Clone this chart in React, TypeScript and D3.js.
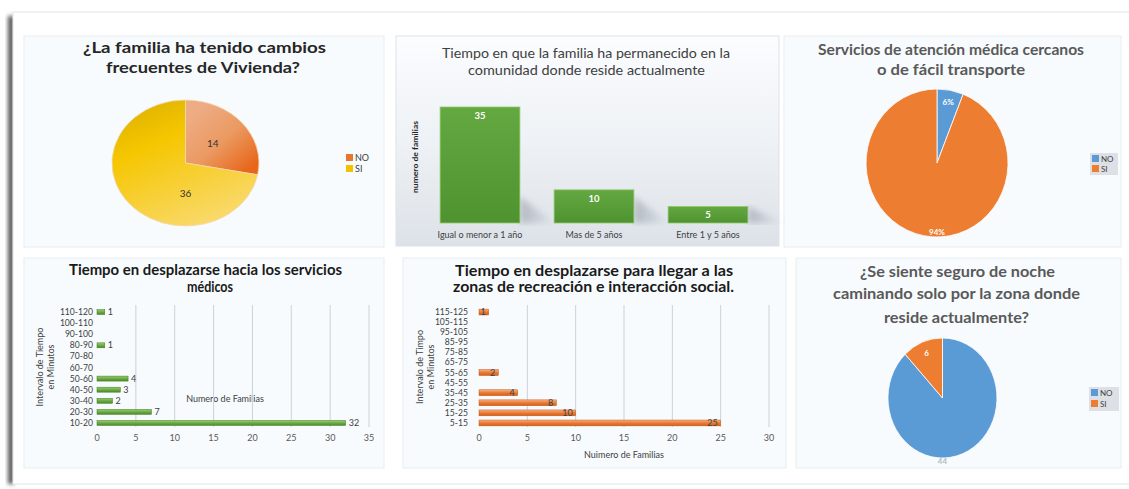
import React from 'react';
import * as d3 from 'd3';

// ---------- DATA ----------
const p1Labels = ['NO', 'SI'];
const p1Values = [14, 36];

const p2Categories = ['Igual o menor a 1 año', 'Mas de 5 años', 'Entre 1 y 5 años'];
const p2Values = [35, 10, 5];

const p3Labels = ['NO', 'SI'];
const p3Values = [6, 94];

const p4Categories = ['10-20', '20-30', '30-40', '40-50', '50-60', '60-70', '70-80', '80-90', '90-100', '100-110', '110-120'];
const p4Values = [32, 7, 2, 3, 4, 0, 0, 1, 0, 0, 1];
const p4Ticks = [0, 5, 10, 15, 20, 25, 30, 35];

const p5Categories = ['5-15', '15-25', '25-35', '35-45', '45-55', '55-65', '65-75', '75-85', '85-95', '95-105', '105-115', '115-125'];
const p5Values = [25, 10, 8, 4, 0, 2, 0, 0, 0, 0, 0, 1];
const p5Ticks = [0, 5, 10, 15, 20, 25, 30];

const p6Labels = ['NO', 'SI'];
const p6Values = [44, 6];

const FONT = 'Lato, "Open Sans", "Noto Sans", sans-serif';

type TitleLine = { text: string; x: number; y: number; w: number };
function Title({ lines, size, weight, color }: { lines: TitleLine[]; size: number; weight: number; color: string }) {
  return (
    <g>
      {lines.map((l, i) => (
        <text key={i} x={l.x} y={l.y} textAnchor="middle" fontSize={size} fontWeight={weight} fill={color}
          fontFamily={FONT} textLength={l.w} lengthAdjust="spacingAndGlyphs">{l.text}</text>
      ))}
    </g>
  );
}

const pieGen = d3.pie<number>().sort(null).value(d => d);
const unitArc = d3.arc<d3.PieArcDatum<number>>().innerRadius(0).outerRadius(1);

function Pie({ values, cx, cy, rx, ry, fills, stroke, labels, labelColors, labelSize, labelWeight, labelR }: any) {
  const arcs = pieGen(values);
  return (
    <g>
      {arcs.map((a, i) => (
        <path key={i} d={unitArc(a) || ''} transform={`translate(${cx},${cy}) scale(${rx},${ry})`}
          fill={fills[i]} stroke={stroke} strokeWidth={0.8} vectorEffect="non-scaling-stroke" />
      ))}
      {arcs.map((a, i) => {
        const big = a.endAngle - a.startAngle > Math.PI;
        const mid = big ? Math.PI : (a.startAngle + a.endAngle) / 2;
        const rf = big ? labelR[1] : labelR[0];
        const x = cx + Math.sin(mid) * rx * rf;
        const y = cy - Math.cos(mid) * ry * rf;
        return (
          <text key={'l' + i} x={x} y={y} dy="0.35em" textAnchor="middle" fontSize={labelSize}
            fontWeight={labelWeight} fill={labelColors[i]} fontFamily={FONT}>{labels[i]}</text>
        );
      })}
    </g>
  );
}

function Legend({ x, y, labels, colors, box, step = 11, size = 8, w = 29 }: any) {
  return (
    <g>
      {box && <rect x={x - 2} y={y - 3} width={w} height={labels.length * step + 2} fill="#dde1e6" />}
      {labels.map((l: string, i: number) => (
        <g key={i}>
          <rect x={x} y={y + i * step - 1} width={7} height={7} fill={colors[i]} />
          <text x={x + 9} y={y + i * step + 6} fontSize={size} fill="#404040" fontFamily={FONT}>{l}</text>
        </g>
      ))}
    </g>
  );
}

export default function App() {
  // ---- Panel 2 scales ----
  const x2 = d3.scaleBand<string>().domain(p2Categories).range([423, 765]).paddingInner(0.3).paddingOuter(0.15);
  const y2 = d3.scaleLinear().domain([0, 35]).range([223, 107]);

  // ---- Panel 4 scales ----
  const x4 = d3.scaleLinear().domain([0, 35]).range([97, 369]);
  const y4 = d3.scaleBand<string>().domain(p4Categories).range([428.5, 306.5]).paddingInner(0.55).paddingOuter(0.275);

  // ---- Panel 5 scales ----
  const x5 = d3.scaleLinear().domain([0, 30]).range([479, 769]);
  const y5 = d3.scaleBand<string>().domain(p5Categories).range([428, 307]).paddingInner(0.42).paddingOuter(0.21);

  return (
    <svg width={1129} height={489} style={{ position: 'absolute', left: 0, top: 0 }} fontFamily={FONT}>
      <defs>
        <filter id="blur2" x="-50%" y="-5%" width="200%" height="110%"><feGaussianBlur stdDeviation="2" /></filter>
        <filter id="blur3"><feGaussianBlur stdDeviation="3" /></filter>
        <linearGradient id="p2bg" x1="0" y1="0" x2="0" y2="1">
          <stop offset="0" stopColor="#fbfdff" />
          <stop offset="0.5" stopColor="#eef1f5" />
          <stop offset="1" stopColor="#dde2e8" />
        </linearGradient>
        <linearGradient id="gNo" x1="0.2" y1="0.1" x2="0.9" y2="0.9">
          <stop offset="0" stopColor="#eeac84" />
          <stop offset="0.5" stopColor="#eb9a62" />
          <stop offset="1" stopColor="#e8661a" />
        </linearGradient>
        <linearGradient id="gSi" x1="0.1" y1="0" x2="0.6" y2="1">
          <stop offset="0" stopColor="#dcb000" />
          <stop offset="0.35" stopColor="#f5c600" />
          <stop offset="1" stopColor="#f9d96a" />
        </linearGradient>
        <linearGradient id="gBar2" x1="0" y1="0" x2="0" y2="1">
          <stop offset="0" stopColor="#63a841" />
          <stop offset="1" stopColor="#4f9330" />
        </linearGradient>
        <linearGradient id="gBar4" x1="0" y1="0" x2="0" y2="1">
          <stop offset="0" stopColor="#9ccd74" />
          <stop offset="0.5" stopColor="#6cab45" />
          <stop offset="1" stopColor="#4a8a29" />
        </linearGradient>
        <linearGradient id="gBar5" x1="0" y1="0" x2="0" y2="1">
          <stop offset="0" stopColor="#f7b286" />
          <stop offset="0.5" stopColor="#ec7a32" />
          <stop offset="1" stopColor="#d2601c" />
        </linearGradient>
        <linearGradient id="gShadow" x1="0" y1="0" x2="1" y2="0">
          <stop offset="0" stopColor="#8a939c" stopOpacity="0.55" />
          <stop offset="1" stopColor="#8a939c" stopOpacity="0" />
        </linearGradient>
      </defs>

      {/* outer frame */}
      <rect x={8} y={16} width={6} height={468} fill="#555" filter="url(#blur2)" />
      <rect x={13} y={12} width={1125} height={472} fill="#ffffff" stroke="#e2e6ea" />

      {/* panels */}
      <rect x={24} y={36} width={360} height={211} fill="#f7fbfd" stroke="#e7edf1" />
      <rect x={396} y={36} width={383} height={210} fill="url(#p2bg)" stroke="#dde3ea" />
      <rect x={784} y={36} width={337} height={211} fill="#f7fbfd" stroke="#e7edf1" />
      <rect x={24} y={258} width={360} height={210} fill="#f7fbfd" stroke="#e7edf1" />
      <rect x={403} y={258} width={383} height={210} fill="#f7fbfd" stroke="#e7edf1" />
      <rect x={796} y={258} width={325} height={210} fill="#f7fbfd" stroke="#e7edf1" />

      {/* ---------- Panel 1 ---------- */}
      <Title size={16} weight={700} color="#262626" lines={[
        { text: '¿La familia ha tenido cambios', x: 204.5, y: 53, w: 243 },
        { text: 'frecuentes de Vivienda?', x: 203, y: 73, w: 194 },
      ]} />
      <Pie values={p1Values} cx={185.5} cy={163} rx={73.5} ry={63} fills={['url(#gNo)', 'url(#gSi)']}
        stroke="#f4d8b0" labels={p1Values.map(String)} labelColors={['#333', '#333']} labelSize={10}
        labelWeight={400} labelR={[0.48, 0.48]} />
      <Legend x={346} y={155} labels={p1Labels} colors={['#e8772e', '#f2c200']} step={11} size={9} />

      {/* ---------- Panel 2 ---------- */}
      <Title size={12.5} weight={400} color="#404040" lines={[
        { text: 'Tiempo en que la familia ha permanecido en la', x: 586, y: 58, w: 288 },
        { text: 'comunidad donde reside actualmente', x: 586.5, y: 75, w: 237 },
      ]} />
      <text transform="translate(418,157) rotate(-90)" textAnchor="middle" fontSize={8} fontWeight={700}
        fill="#262626" fontFamily={FONT} textLength={72} lengthAdjust="spacingAndGlyphs">numero de familias</text>
      {p2Categories.map((c, i) => {
        const x0 = (x2(c) || 0) + x2.bandwidth();
        const h = Math.min(y2(0) - y2(p2Values[i]), 26);
        return (
          <polygon key={'s' + i} points={`${x0},${y2(0)} ${x0},${y2(0) - h} ${x0 + 36},${y2(0)}`}
            fill="url(#gShadow)" filter="url(#blur3)" />
        );
      })}
      {p2Categories.map((c, i) => (
        <g key={c}>
          <rect x={x2(c)} y={y2(p2Values[i])} width={x2.bandwidth()} height={y2(0) - y2(p2Values[i])}
            fill="url(#gBar2)" stroke="#93c86e" strokeWidth={0.8} />
          <text x={(x2(c) || 0) + x2.bandwidth() / 2} y={y2(p2Values[i]) + 12} textAnchor="middle"
            fontSize={9.5} fontWeight={700} fill="#ffffff" fontFamily={FONT}>{p2Values[i]}</text>
          <text x={(x2(c) || 0) + x2.bandwidth() / 2} y={238} textAnchor="middle" fontSize={9}
            fill="#404040" fontFamily={FONT}>{c}</text>
        </g>
      ))}

      {/* ---------- Panel 3 ---------- */}
      <Title size={16} weight={700} color="#595959" lines={[
        { text: 'Servicios de atención médica cercanos', x: 951, y: 55, w: 266 },
        { text: 'o de fácil transporte', x: 951, y: 75, w: 148 },
      ]} />
      <Pie values={p3Values} cx={937} cy={163} rx={71} ry={74} fills={['#5b9bd5', '#ed7d31']}
        stroke="#ffffff" labels={p3Values.map(v => v + '%')} labelColors={['#fff', '#fff']} labelSize={8}
        labelWeight={700} labelR={[0.84, 0.93]} />
      <Legend x={1092} y={156} labels={p3Labels} colors={['#5b9bd5', '#ed7d31']} box step={10} w={28} />

      {/* ---------- Panel 4 ---------- */}
      <Title size={15} weight={700} color="#1a1a1a" lines={[
        { text: 'Tiempo en desplazarse hacia los servicios', x: 205.5, y: 275, w: 273 },
        { text: 'médicos', x: 210, y: 292, w: 46 },
      ]} />
      <text x={225} y={402} textAnchor="middle" fontSize={9} fill="#404040" fontFamily={FONT}>Numero de Familias</text>
      {p4Ticks.filter(t => t > 0).map(t => (
        <line key={t} x1={x4(t)} x2={x4(t)} y1={305} y2={427} stroke="#ccd1da" strokeWidth={1} />
      ))}
      {p4Ticks.map(t => (
        <text key={'t' + t} x={x4(t)} y={441} textAnchor="middle" fontSize={9} fill="#595959" fontFamily={FONT}>{t}</text>
      ))}
      {p4Categories.map((c, i) => (
        <text key={'c' + c} x={93} y={(y4(c) || 0) + y4.bandwidth() / 2} dy="0.35em" textAnchor="end"
          fontSize={8.6} fill="#404040" fontFamily={FONT}>{c}</text>
      ))}
      {p4Categories.map((c, i) => p4Values[i] > 0 && (
        <g key={'b' + c}>
          <rect x={x4(0)} y={y4(c)} width={x4(p4Values[i]) - x4(0)} height={y4.bandwidth()}
            fill="url(#gBar4)" stroke="#3f7a22" strokeWidth={0.5} />
          <text x={x4(p4Values[i]) + 3} y={(y4(c) || 0) + y4.bandwidth() / 2} dy="0.35em" fontSize={9}
            fill="#404040" fontFamily={FONT}>{p4Values[i]}</text>
        </g>
      ))}
      <g transform="translate(0,367)">
        <text transform="translate(43,0) rotate(-90)" textAnchor="middle" fontSize={9} fill="#404040" fontFamily={FONT}>Intervalo de Tiempo</text>
        <text transform="translate(54,0) rotate(-90)" textAnchor="middle" fontSize={9} fill="#404040" fontFamily={FONT}>en Minutos</text>
      </g>

      {/* ---------- Panel 5 ---------- */}
      <Title size={14.5} weight={700} color="#1a1a1a" lines={[
        { text: 'Tiempo  en desplazarse para llegar a las', x: 594, y: 276, w: 278 },
        { text: 'zonas de recreación e interacción social.', x: 593.5, y: 292, w: 281 },
      ]} />
      {p5Ticks.filter(t => t > 0).map(t => (
        <line key={t} x1={x5(t)} x2={x5(t)} y1={305} y2={427} stroke="#ccd1da" strokeWidth={1} />
      ))}
      {p5Ticks.map(t => (
        <text key={'t' + t} x={x5(t)} y={441} textAnchor="middle" fontSize={9} fill="#595959" fontFamily={FONT}>{t}</text>
      ))}
      {p5Categories.map(c => (
        <text key={'c' + c} x={468} y={(y5(c) || 0) + y5.bandwidth() / 2} dy="0.35em" textAnchor="end"
          fontSize={8.6} fill="#404040" fontFamily={FONT}>{c}</text>
      ))}
      {p5Categories.map((c, i) => p5Values[i] > 0 && (
        <g key={'b' + c}>
          <rect x={x5(0)} y={y5(c)} width={x5(p5Values[i]) - x5(0)} height={y5.bandwidth()}
            fill="url(#gBar5)" stroke="#c0561a" strokeWidth={0.5} />
          <text x={x5(p5Values[i]) - 3} y={(y5(c) || 0) + y5.bandwidth() / 2} dy="0.35em" textAnchor="end"
            fontSize={9} fill="#404040" fontFamily={FONT}>{p5Values[i]}</text>
        </g>
      ))}
      <text x={624} y={458} textAnchor="middle" fontSize={9} fill="#404040" fontFamily={FONT}>Nuimero de Familias</text>
      <g transform="translate(0,367)">
        <text transform="translate(423,0) rotate(-90)" textAnchor="middle" fontSize={9} fill="#404040" fontFamily={FONT}>Intervalo de Timpo</text>
        <text transform="translate(434,0) rotate(-90)" textAnchor="middle" fontSize={9} fill="#404040" fontFamily={FONT}>en Minutos</text>
      </g>

      {/* ---------- Panel 6 ---------- */}
      <Title size={16} weight={700} color="#595959" lines={[
        { text: '¿Se siente seguro de noche', x: 957.5, y: 277, w: 195 },
        { text: 'caminando solo por la zona donde', x: 956.5, y: 299, w: 247 },
        { text: 'reside actualmente?', x: 956.5, y: 323, w: 145 },
      ]} />
      <Pie values={p6Values} cx={942.5} cy={398} rx={54.5} ry={60} fills={['#5b9bd5', '#ed7d31']}
        stroke="#ffffff" labels={p6Values.map(String)} labelColors={['#b4bcc6', '#fff']} labelSize={8}
        labelWeight={700} labelR={[0.8, 1.05]} />
      <Legend x={1091} y={390} labels={p6Labels} colors={['#5b9bd5', '#ed7d31']} box step={11} w={30} />
    </svg>
  );
}
